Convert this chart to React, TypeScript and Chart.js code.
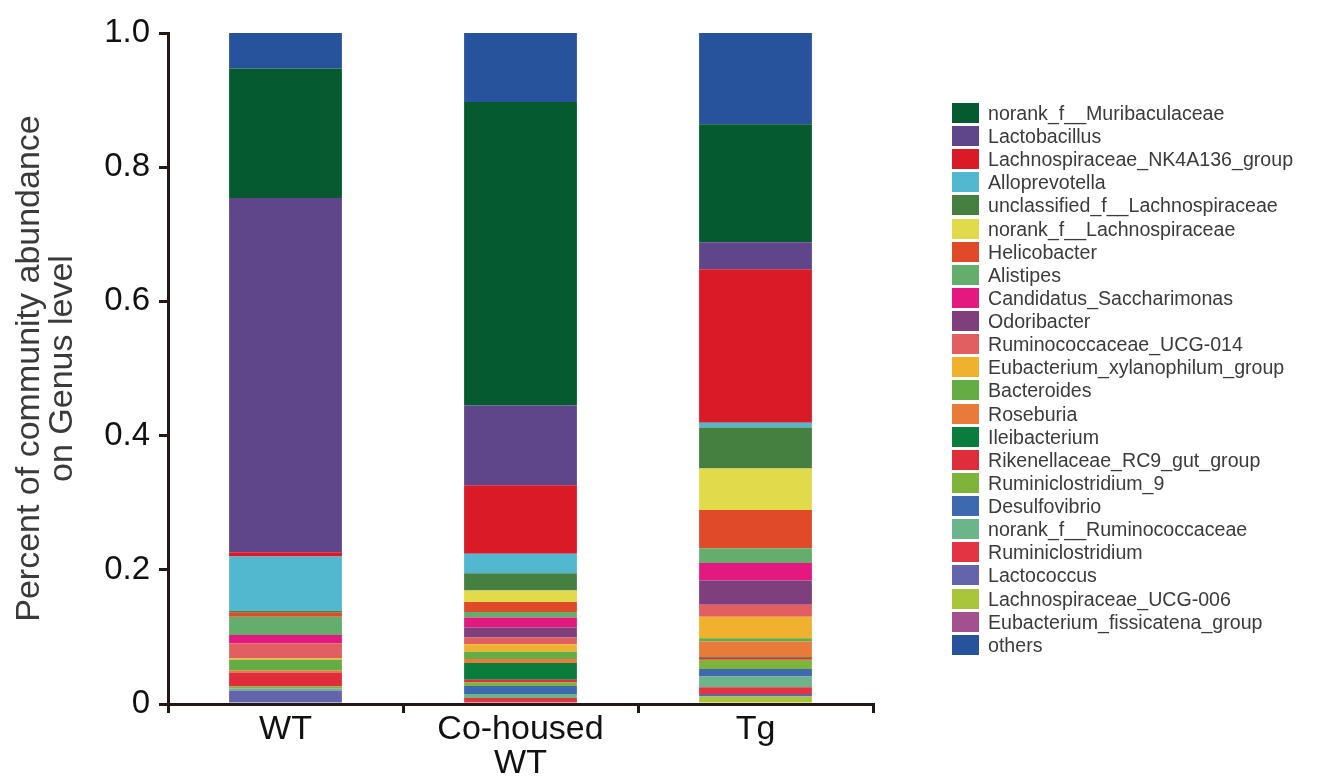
import React, { useEffect, useRef } from 'react';
import { Chart, registerables } from 'chart.js';

Chart.register(...registerables);

// Categories (x axis); an inner array is a two-line label
const groups: (string | string[])[] = ['WT', ['Co-housed', 'WT'], 'Tg'];

// Genera in legend order (top of legend first); "others" sits on top of each bar
const genera: string[] = [
  'norank_f__Muribaculaceae',
  'Lactobacillus',
  'Lachnospiraceae_NK4A136_group',
  'Alloprevotella',
  'unclassified_f__Lachnospiraceae',
  'norank_f__Lachnospiraceae',
  'Helicobacter',
  'Alistipes',
  'Candidatus_Saccharimonas',
  'Odoribacter',
  'Ruminococcaceae_UCG-014',
  'Eubacterium_xylanophilum_group',
  'Bacteroides',
  'Roseburia',
  'Ileibacterium',
  'Rikenellaceae_RC9_gut_group',
  'Ruminiclostridium_9',
  'Desulfovibrio',
  'norank_f__Ruminococcaceae',
  'Ruminiclostridium',
  'Lactococcus',
  'Lachnospiraceae_UCG-006',
  'Eubacterium_fissicatena_group',
  'others',
];

const genusColors: string[] = [
  '#065a30',
  '#5f4589',
  '#d91a27',
  '#52b8cf',
  '#458040',
  '#e1da4a',
  '#e04a28',
  '#63ae6c',
  '#e4197f',
  '#7e3f7c',
  '#e15e61',
  '#f0b12e',
  '#63ad44',
  '#e87a3a',
  '#0a7c3b',
  '#df2e3a',
  '#7fb43a',
  '#3d69b0',
  '#6cb48a',
  '#e23541',
  '#6464ad',
  '#a9c53c',
  '#a2508f',
  '#27529c',
];

// Relative abundance per genus (same order as genera)
const wtShares: number[] = [
  0.193, 0.528, 0.006, 0.081, 0.003, 0.0, 0.006, 0.027, 0.013, 0.0, 0.022, 0.002,
  0.016, 0.003, 0.0, 0.021, 0.003, 0.0, 0.003, 0.0, 0.02, 0.0, 0.0, 0.053,
];
const cohousedShares: number[] = [
  0.452, 0.119, 0.102, 0.029, 0.026, 0.017, 0.015, 0.008, 0.015, 0.015, 0.01, 0.011,
  0.011, 0.006, 0.025, 0.004, 0.005, 0.012, 0.006, 0.009, 0.0, 0.0, 0.0, 0.103,
];
const tgShares: number[] = [
  0.176, 0.04, 0.229, 0.007, 0.061, 0.062, 0.057, 0.022, 0.026, 0.036, 0.018, 0.032,
  0.005, 0.023, 0.001, 0.003, 0.014, 0.011, 0.016, 0.01, 0.004, 0.011, 0.0, 0.136,
];

const yTickLabels: string[] = ['0', '0.2', '0.4', '0.6', '0.8', '1.0'];
const yTitle: string[] = ['Percent of community abundance', 'on Genus level'];

const AXIS = '#231815';
const FONT = '"Liberation Sans", Arial, Helvetica, sans-serif';

export default function App() {
  const canvasRef = useRef<HTMLCanvasElement | null>(null);

  useEffect(() => {
    if (!canvasRef.current) return;
    const n = genera.length;
    // stack order: last legend genus at the bottom, "others" on top
    const order: number[] = [];
    for (let i = n - 2; i >= 0; i--) order.push(i);
    order.push(n - 1);
    const datasets = order.map((i) => ({
      label: genera[i],
      data: [wtShares[i], cohousedShares[i], tgShares[i]],
      backgroundColor: genusColors[i],
      borderWidth: 0,
      barPercentage: 0.48,
      categoryPercentage: 1,
    }));

    const chart = new Chart(canvasRef.current, {
      type: 'bar',
      data: { labels: groups as any, datasets },
      options: {
        animation: false,
        responsive: false,
        layout: { padding: { left: 12, top: 33, right: 448, bottom: 0 } },
        plugins: { legend: { display: false }, tooltip: { enabled: false } },
        scales: {
          x: {
            stacked: true,
            grid: {
              display: true,
              drawOnChartArea: false,
              drawTicks: true,
              tickLength: 9,
              lineWidth: 3,
              color: AXIS,
              offset: true,
            },
            border: { display: true, color: AXIS, width: 3 },
            ticks: {
              font: { family: FONT, size: 34, lineHeight: 1.0 },
              color: '#111',
              padding: 0,
              maxRotation: 0,
              autoSkip: false,
            },
            afterFit: (s: any) => {
              s.height = 74;
            },
          },
          y: {
            stacked: true,
            min: 0,
            max: 1,
            grid: {
              display: true,
              drawOnChartArea: false,
              drawTicks: true,
              tickLength: 9,
              lineWidth: 3,
              color: AXIS,
            },
            border: { display: true, color: AXIS, width: 3 },
            ticks: {
              stepSize: 0.2,
              callback: (_v: any, i: number) => yTickLabels[i],
              font: { family: FONT, size: 33 },
              color: '#111',
              padding: 9,
            },
            title: {
              display: true,
              text: yTitle,
              font: { family: FONT, size: 34, lineHeight: 0.97 },
              color: '#3a3a3a',
              padding: { top: 1, bottom: 0 },
            },
            afterFit: (s: any) => {
              s.width = 156;
            },
          },
        },
      },
    });
    return () => chart.destroy();
  }, []);

  return (
    <div style={{ position: 'fixed', left: 0, top: 0, width: 1321, height: 778, background: '#fff' }}>
      <canvas ref={canvasRef} width={1321} height={778} style={{ display: 'block' }} />
      <div
        style={{
          position: 'absolute',
          left: 952,
          top: 101.4,
          fontFamily: FONT,
          fontSize: 19.6,
          color: '#3b3b3b',
        }}
      >
        {genera.map((g, i) => (
          <div key={g} style={{ display: 'flex', alignItems: 'center', height: 23.13 }}>
            <span style={{ width: 27, height: 20, background: genusColors[i], flex: 'none' }} />
            <span style={{ marginLeft: 9, lineHeight: '20px', whiteSpace: 'nowrap' }}>{g}</span>
          </div>
        ))}
      </div>
    </div>
  );
}
